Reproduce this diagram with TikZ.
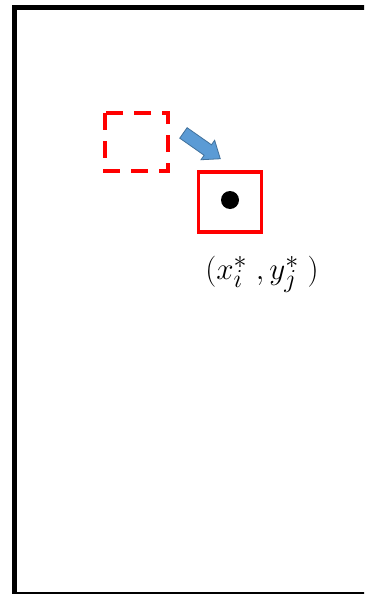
\documentclass[tikz,border=0pt]{standalone}
\usetikzlibrary{shapes.arrows}
\definecolor{boxred}{RGB}{255,0,0}
\definecolor{arrowblue}{RGB}{91,155,213}
\definecolor{arrowedge}{RGB}{65,113,156}
\begin{document}
\begin{tikzpicture}[x=1pt,y=-1pt,
  framestyle/.style={line width=5pt,draw=black},
  oldbox/.style={draw=boxred,line width=3.8pt,dash pattern=on 17pt off 11pt},
  newbox/.style={draw=boxred,line width=3.5pt},
  movearrow/.style={single arrow,draw=arrowedge,fill=arrowblue,line width=0.8pt,
    inner sep=6pt,minimum height=45pt,single arrow head extend=5.5pt,
    single arrow tip angle=76,rotate=-35,anchor=center}]
\useasboundingbox (0,0) rectangle (364,594);
\clip (0,0) rectangle (364,594);
\draw[framestyle] (14.5,7.5) rectangle (400,594.5);
\draw[oldbox] (105,113) rectangle (168,171);
\node[newbox,minimum width=63pt,minimum height=60pt,inner sep=0pt] (new) at (230,202) {};
\node[circle,fill=black,minimum size=18pt,inner sep=0pt] (dot) at (230,200) {};
\node[movearrow] (arr) at (198.5,143.5) {};
\node[font=\Huge,scale=1.25] (lab) at (262,274) {$(x_i^*\mskip5mu,y_j^*\mskip5mu)$};
\end{tikzpicture}
\end{document}
